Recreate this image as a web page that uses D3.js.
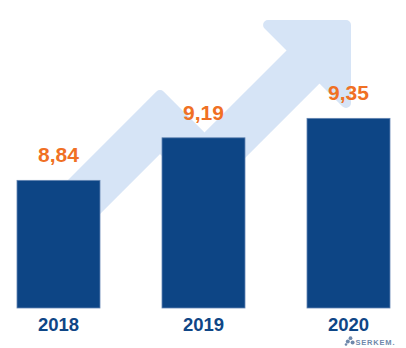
<!DOCTYPE html>
<html>
<head>
<meta charset="utf-8">
<script src="https://cdn.jsdelivr.net/npm/d3@7"></script>
<style>
  html, body { margin: 0; padding: 0; background: #ffffff; }
  svg { display: block; }
</style>
</head>
<body>
<div id="chart"></div>
<script>
// ---- data ----
const years = ["2018", "2019", "2020"];
const values = [8.84, 9.19, 9.35];
const valueLabels = ["8,84", "9,19", "9,35"];
const brand = "SERKEM.";

// ---- layout ----
const W = 406, H = 348;
const baseY = 308;

const svg = d3.select("#chart").append("svg")
  .attr("width", W).attr("height", H);

const x = d3.scaleBand()
  .domain(years)
  .range([-14, 421])
  .paddingInner(0.4276)
  .paddingOuter(0.2138);

const y = d3.scaleLinear()
  .domain([7.79, 9.6])
  .range([baseY, baseY - 1.81 * 121.57]);

// ---- decorative rising arrow (background) ----
// edges: interior satisfies a*x + b*y >= c
const arrowEdges = [
  [1, -1, -200],
  [1, 1, 248],
  [-1, 1, -72],
  [1, 1, 337],
  [1, -1, 236],
  [0, 1, 20],
  [-1, 0, -351],
  [1, -1, 236],
  [-1, -1, -403],
  [1, -1, 6],
  [-1, -1, -314]
];
const r = 5;
const inset = arrowEdges.map(([a, b, c]) => [a, b, c + r * Math.hypot(a, b)]);
function meet(e1, e2) {
  const [a1, b1, c1] = e1, [a2, b2, c2] = e2;
  const det = a1 * b2 - a2 * b1;
  return [(c1 * b2 - c2 * b1) / det, (a1 * c2 - a2 * c1) / det];
}
const arrowPts = inset.map((e, i) => meet(e, inset[(i + 1) % inset.length]));
svg.append("path")
  .attr("d", d3.line()(arrowPts) + "Z")
  .attr("fill", "#d6e4f6")
  .attr("stroke", "#d6e4f6")
  .attr("stroke-width", 2 * r)
  .attr("stroke-linejoin", "round");

// ---- bars ----
svg.selectAll("rect.bar")
  .data(values)
  .enter().append("rect")
  .attr("class", "bar")
  .attr("x", (d, i) => x(years[i]))
  .attr("y", d => y(d))
  .attr("width", x.bandwidth())
  .attr("height", d => baseY - y(d))
  .attr("fill", "#0d4585")
  .attr("stroke", "#6485b3")
  .attr("stroke-width", 0.8);

// ---- value labels ----
svg.selectAll("text.val")
  .data(values)
  .enter().append("text")
  .attr("class", "val")
  .attr("x", (d, i) => x(years[i]) + x.bandwidth() / 2)
  .attr("y", d => y(d) - 18)
  .attr("text-anchor", "middle")
  .attr("font-family", "'Liberation Sans', Arial, sans-serif")
  .attr("font-weight", "bold")
  .attr("font-size", 21)
  .attr("fill", "#f07024")
  .text((d, i) => valueLabels[i]);

// ---- category axis labels ----
svg.selectAll("text.year")
  .data(years)
  .enter().append("text")
  .attr("class", "year")
  .attr("x", d => x(d) + x.bandwidth() / 2)
  .attr("y", 331)
  .attr("text-anchor", "middle")
  .attr("font-family", "'Liberation Sans', Arial, sans-serif")
  .attr("font-weight", "bold")
  .attr("font-size", 18.5)
  .attr("fill", "#0f4686")
  .text(d => d);

// ---- brand mark ----
const logo = svg.append("g").attr("fill", "#6e88ab");
logo.append("circle").attr("cx", 350.5).attr("cy", 338.2).attr("r", 1.9);
logo.append("circle").attr("cx", 347.8).attr("cy", 341.6).attr("r", 2);
logo.append("circle").attr("cx", 352.6).attr("cy", 342.6).attr("r", 2);
logo.append("circle").attr("cx", 346).attr("cy", 344.5).attr("r", 1.3);
logo.append("text")
  .attr("x", 355.5)
  .attr("y", 344.5)
  .attr("font-family", "'Liberation Sans', Arial, sans-serif")
  .attr("font-weight", "bold")
  .attr("font-size", 7.5)
  .attr("letter-spacing", 0.8)
  .text(brand);
</script>
</body>
</html>
